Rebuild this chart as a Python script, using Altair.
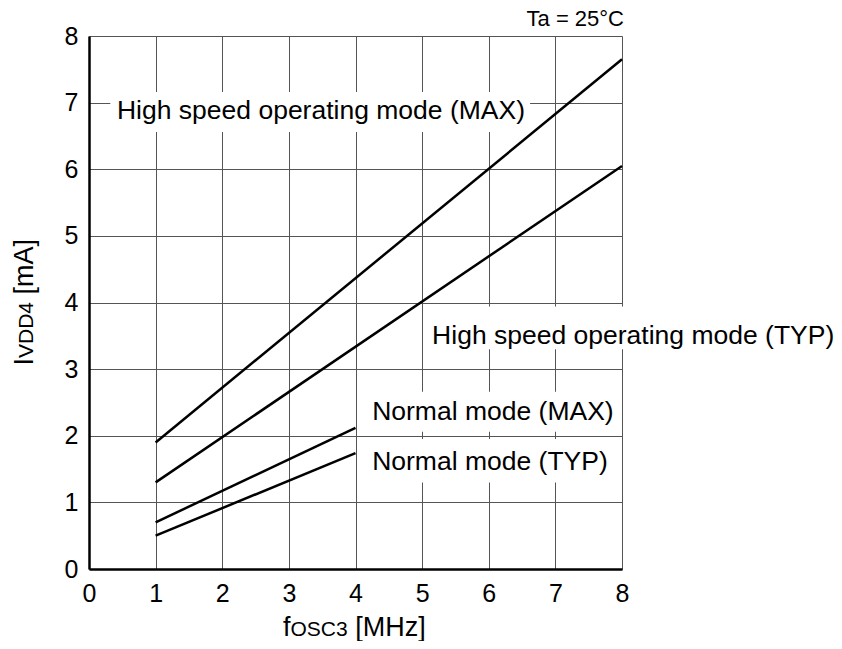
import altair as alt
import pandas as pd

# Series data
x_hs = [1, 8]
hs_max = [1.9, 7.65]
hs_typ = [1.3, 6.05]
x_n = [1, 4]
n_max = [0.7, 2.12]
n_typ = [0.5, 1.74]

x_ticks = [0, 1, 2, 3, 4, 5, 6, 7, 8]
y_ticks = [0, 1, 2, 3, 4, 5, 6, 7, 8]

# Annotation labels (anchor in data units) and their white background boxes
label_text = ["High speed operating mode (MAX)", "High speed operating mode (TYP)",
              "Normal mode (MAX)", "Normal mode (TYP)"]
label_x = [0.42, 5.15, 4.25, 4.25]
label_y = [6.88, 3.5, 2.36, 1.6]
box_x1 = [0.32, 5.08, 4.15, 4.15]
box_x2 = [6.62, 11.5, 7.95, 7.95]
box_y1 = [6.56, 3.3, 2.06, 1.3]
box_y2 = [7.16, 3.94, 2.66, 1.95]

# Axis titles, split so the subscript-like part can be smaller
xtitle_parts = ["f", "OSC3", "[MHz]"]
xtitle_sizes = [27, 21, 27]
xtitle_dx = [194, 201.5, 266.2]
ytitle_parts = ["I", "VDD4", "[mA]"]
ytitle_sizes = [27, 21, 27]
ytitle_dy = [329.5, 322, 258.5]

FONT = "Liberation Sans"

rows = []
for name, xs, ys in [("hs_max", x_hs, hs_max), ("hs_typ", x_hs, hs_typ),
                     ("n_max", x_n, n_max), ("n_typ", x_n, n_typ)]:
    for xv, yv in zip(xs, ys):
        rows.append({"series": name, "f": xv, "i": yv})
df = pd.DataFrame(rows)

lab = pd.DataFrame({"text": label_text, "x": label_x, "y": label_y})
box = pd.DataFrame({"x1": box_x1, "x2": box_x2, "y1": box_y1, "y2": box_y2})

xscale = alt.Scale(domain=[0, 8], nice=False, zero=True)
yscale = alt.Scale(domain=[0, 8], nice=False, zero=True)

common_axis = dict(grid=True, gridColor="#555555", gridWidth=1, domainColor="black",
                   domainWidth=2.5, ticks=False, labelFontSize=25, labelFont=FONT,
                   labelColor="black", format="d", title=None, labelFlush=False,
                   labelOverlap=False)
xaxis = alt.Axis(values=x_ticks, labelPadding=12, **common_axis)
yaxis = alt.Axis(values=y_ticks, labelPadding=11, **common_axis)

lines = alt.Chart(df).mark_line(color="black", strokeWidth=2.5).encode(
    x=alt.X("f:Q", scale=xscale, axis=xaxis),
    y=alt.Y("i:Q", scale=yscale, axis=yaxis),
    detail="series:N",
)

boxes = alt.Chart(box).mark_rect(fill="white").encode(
    x=alt.X("x1:Q", scale=xscale), x2="x2:Q",
    y=alt.Y("y1:Q", scale=yscale), y2="y2:Q",
)

texts = alt.Chart(lab).mark_text(align="left", baseline="middle", fontSize=26.5,
                                 font=FONT, color="black").encode(
    x=alt.X("x:Q", scale=xscale), y=alt.Y("y:Q", scale=yscale), text="text:N")

layers = [boxes, lines, texts]

for t, s, dx in zip(xtitle_parts, xtitle_sizes, xtitle_dx):
    layers.append(alt.Chart(pd.DataFrame({"t": [t]})).mark_text(
        align="left", baseline="alphabetic", fontSize=s, font=FONT, color="black"
    ).encode(x=alt.value(dx), y=alt.value(600), text="t:N"))

for t, s, dy in zip(ytitle_parts, ytitle_sizes, ytitle_dy):
    layers.append(alt.Chart(pd.DataFrame({"t": [t]})).mark_text(
        align="left", baseline="alphabetic", angle=270, fontSize=s, font=FONT, color="black"
    ).encode(x=alt.value(-56), y=alt.value(dy), text="t:N"))

layers.append(alt.Chart(pd.DataFrame({"t": ["Ta = 25°C"]})).mark_text(
    align="right", baseline="alphabetic", fontSize=22, font=FONT, color="black"
).encode(x=alt.value(535), y=alt.value(-10), text="t:N"))

chart = alt.layer(*layers).properties(
    width=533, height=533,
    autosize=alt.AutoSizeParams(type="none"),
    padding={"left": 81, "top": 28, "right": 212, "bottom": 72},
).configure_view(stroke="#555555", strokeWidth=1.5).configure(background="white")

chart.save("out.html", embed_options={"renderer": "svg", "actions": False})
